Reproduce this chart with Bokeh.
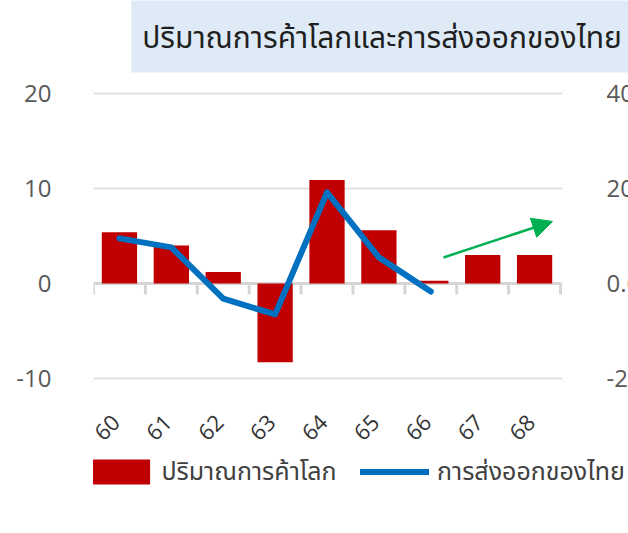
from bokeh.plotting import figure
from bokeh.models import (Range1d, LinearAxis, FixedTicker, Legend, LegendItem, Arrow,
                          NormalHead, BoxAnnotation, Label, NumeralTickFormatter)
from bokeh.embed import file_html
from bokeh.resources import INLINE

# ---------------- data ----------------
years = ["60", "61", "62", "63", "64", "65", "66", "67", "68"]
world_trade = [5.4, 4.0, 1.2, -8.3, 10.9, 5.6, 0.3, 3.0, 3.0]      # left axis
thai_exports = [9.5, 7.6, -3.2, -6.5, 19.2, 5.5, -1.7]             # right axis (60-66)
left_ticks = [-10, 0, 10, 20]
left_labels = ["-10", "0", "10", "20"]
right_ticks = [-20, 0, 20, 40]
title_text = "ปริมาณการค้าโลกและการส่งออกของไทย"
legend_trade = "ปริมาณการค้าโลก"
legend_exports = "การส่งออกของไทย"

# ---------------- style / layout ----------------
RED = "#C00000"
BLUE = "#0070C0"
GREEN = "#00B050"
GRID = "#E2E2E2"
AXIS = "#D6D6D6"
TXT = "#595959"
THAI_FONT = "Noto Sans Thai, Tahoma, Noto Sans, DejaVu Sans, sans-serif"
NUM_FONT = "Open Sans"

W, H = 628, 530
LEFT = 93
X_END = 10.31
Y_START, Y_END = -26.0, 29.79
TICK_LEN = 1.16

n = len(years)
xs = [i + 0.5 for i in range(n)]
label_ticks = [x - 0.07 for x in xs]
boundaries = list(range(n + 1))

p = figure(width=W, height=H, output_backend="svg", toolbar_location=None,
           x_range=Range1d(0, X_END), y_range=Range1d(Y_START, Y_END),
           x_axis_location=None, y_axis_location="left",
           min_border_left=LEFT, min_border_right=0, min_border_top=0, min_border_bottom=0)
p.outline_line_color = None
p.background_fill_color = "white"
p.border_fill_color = "white"
p.extra_y_ranges = {"y2": Range1d(2 * Y_START, 2 * Y_END)}

# grid
p.xgrid.visible = False
g = p.ygrid[0]
g.grid_line_color = GRID
g.grid_line_width = 2
if "cross_bounds" in g.properties():
    g.cross_bounds = (-0.02, 9.04)

# left axis
ya = p.yaxis[0]
ya.ticker = FixedTicker(ticks=left_ticks)
ya.major_label_overrides = {t: s for t, s in zip(left_ticks, left_labels)}
ya.axis_line_color = None
ya.major_tick_line_color = None
ya.minor_tick_line_color = None
ya.major_label_standoff = 36
ya.major_label_text_font_size = "24px"
ya.major_label_text_font = NUM_FONT
ya.major_label_text_color = TXT

# right axis (cropped by the canvas edge like the reference)
ya2 = LinearAxis(y_range_name="y2", fixed_location=9.0,
                 ticker=FixedTicker(ticks=right_ticks),
                 formatter=NumeralTickFormatter(format="0.0"))
ya2.axis_line_color = None
ya2.major_tick_line_color = None
ya2.minor_tick_line_color = None
ya2.major_label_standoff = 40
ya2.major_label_text_font_size = "24px"
ya2.major_label_text_font = NUM_FONT
ya2.major_label_text_color = TXT
p.add_layout(ya2, "right")

# zero line with category boundary ticks
p.segment(x0=boundaries[0], y0=0, x1=boundaries[-1], y1=0, line_color=AXIS, line_width=3)
p.segment(x0=boundaries, y0=[0] * len(boundaries), x1=boundaries,
          y1=[-TICK_LEN] * len(boundaries), line_color=AXIS, line_width=3)

# category labels axis
xa = LinearAxis(fixed_location=-10, ticker=FixedTicker(ticks=label_ticks),
                major_label_overrides={x: y for x, y in zip(label_ticks, years)})
xa.axis_line_color = None
xa.major_tick_line_color = None
xa.minor_tick_line_color = None
xa.major_label_orientation = 0.785398
xa.major_label_standoff = 34
xa.major_label_text_font_size = "22px"
xa.major_label_text_font = NUM_FONT
xa.major_label_text_color = "#333333"
p.add_layout(xa, "below")

# bars and line
bars = p.vbar(x=xs, top=world_trade, width=0.68, fill_color=RED, line_color=None)
line = p.line(x=xs[:len(thai_exports)], y=thai_exports, y_range_name="y2",
              line_color=BLUE, line_width=6, line_join="round", line_cap="round")

# trend arrow
p.add_layout(Arrow(x_start=6.745, y_start=2.74, x_end=8.846, y_end=6.53,
                   line_color=GREEN, line_width=2.5,
                   end=NormalHead(size=20, fill_color=GREEN, line_color=GREEN)))

# title box
p.add_layout(BoxAnnotation(left=0.73, right=12, bottom=22.2, top=32,
                           fill_color="#DEEBF7", fill_alpha=1, line_color=None,
                           level="underlay"))
p.add_layout(Label(x=5.56, y=25.7, text=title_text, text_align="center",
                   text_baseline="middle", text_font_size="30px",
                   text_font=THAI_FONT, text_color="#1F1F1F"))

# legends
leg1 = Legend(items=[LegendItem(label=legend_trade, renderers=[bars])],
              location=(-18.6, 39.5), orientation="horizontal",
              glyph_width=84, glyph_height=31, label_standoff=3,
              label_text_font_size="25px", label_text_font=THAI_FONT,
              label_text_color="#404040", border_line_color=None,
              background_fill_alpha=0, padding=0, margin=0)
leg2 = Legend(items=[LegendItem(label=legend_exports, renderers=[line])],
              location=(267, 39.5), orientation="horizontal",
              glyph_width=69, glyph_height=31, label_standoff=8,
              label_text_font_size="25px", label_text_font=THAI_FONT,
              label_text_color="#404040", border_line_color=None,
              background_fill_alpha=0, padding=0, margin=0)
p.add_layout(leg1)
p.add_layout(leg2)

open("out.html", "w").write(file_html(p, INLINE))
